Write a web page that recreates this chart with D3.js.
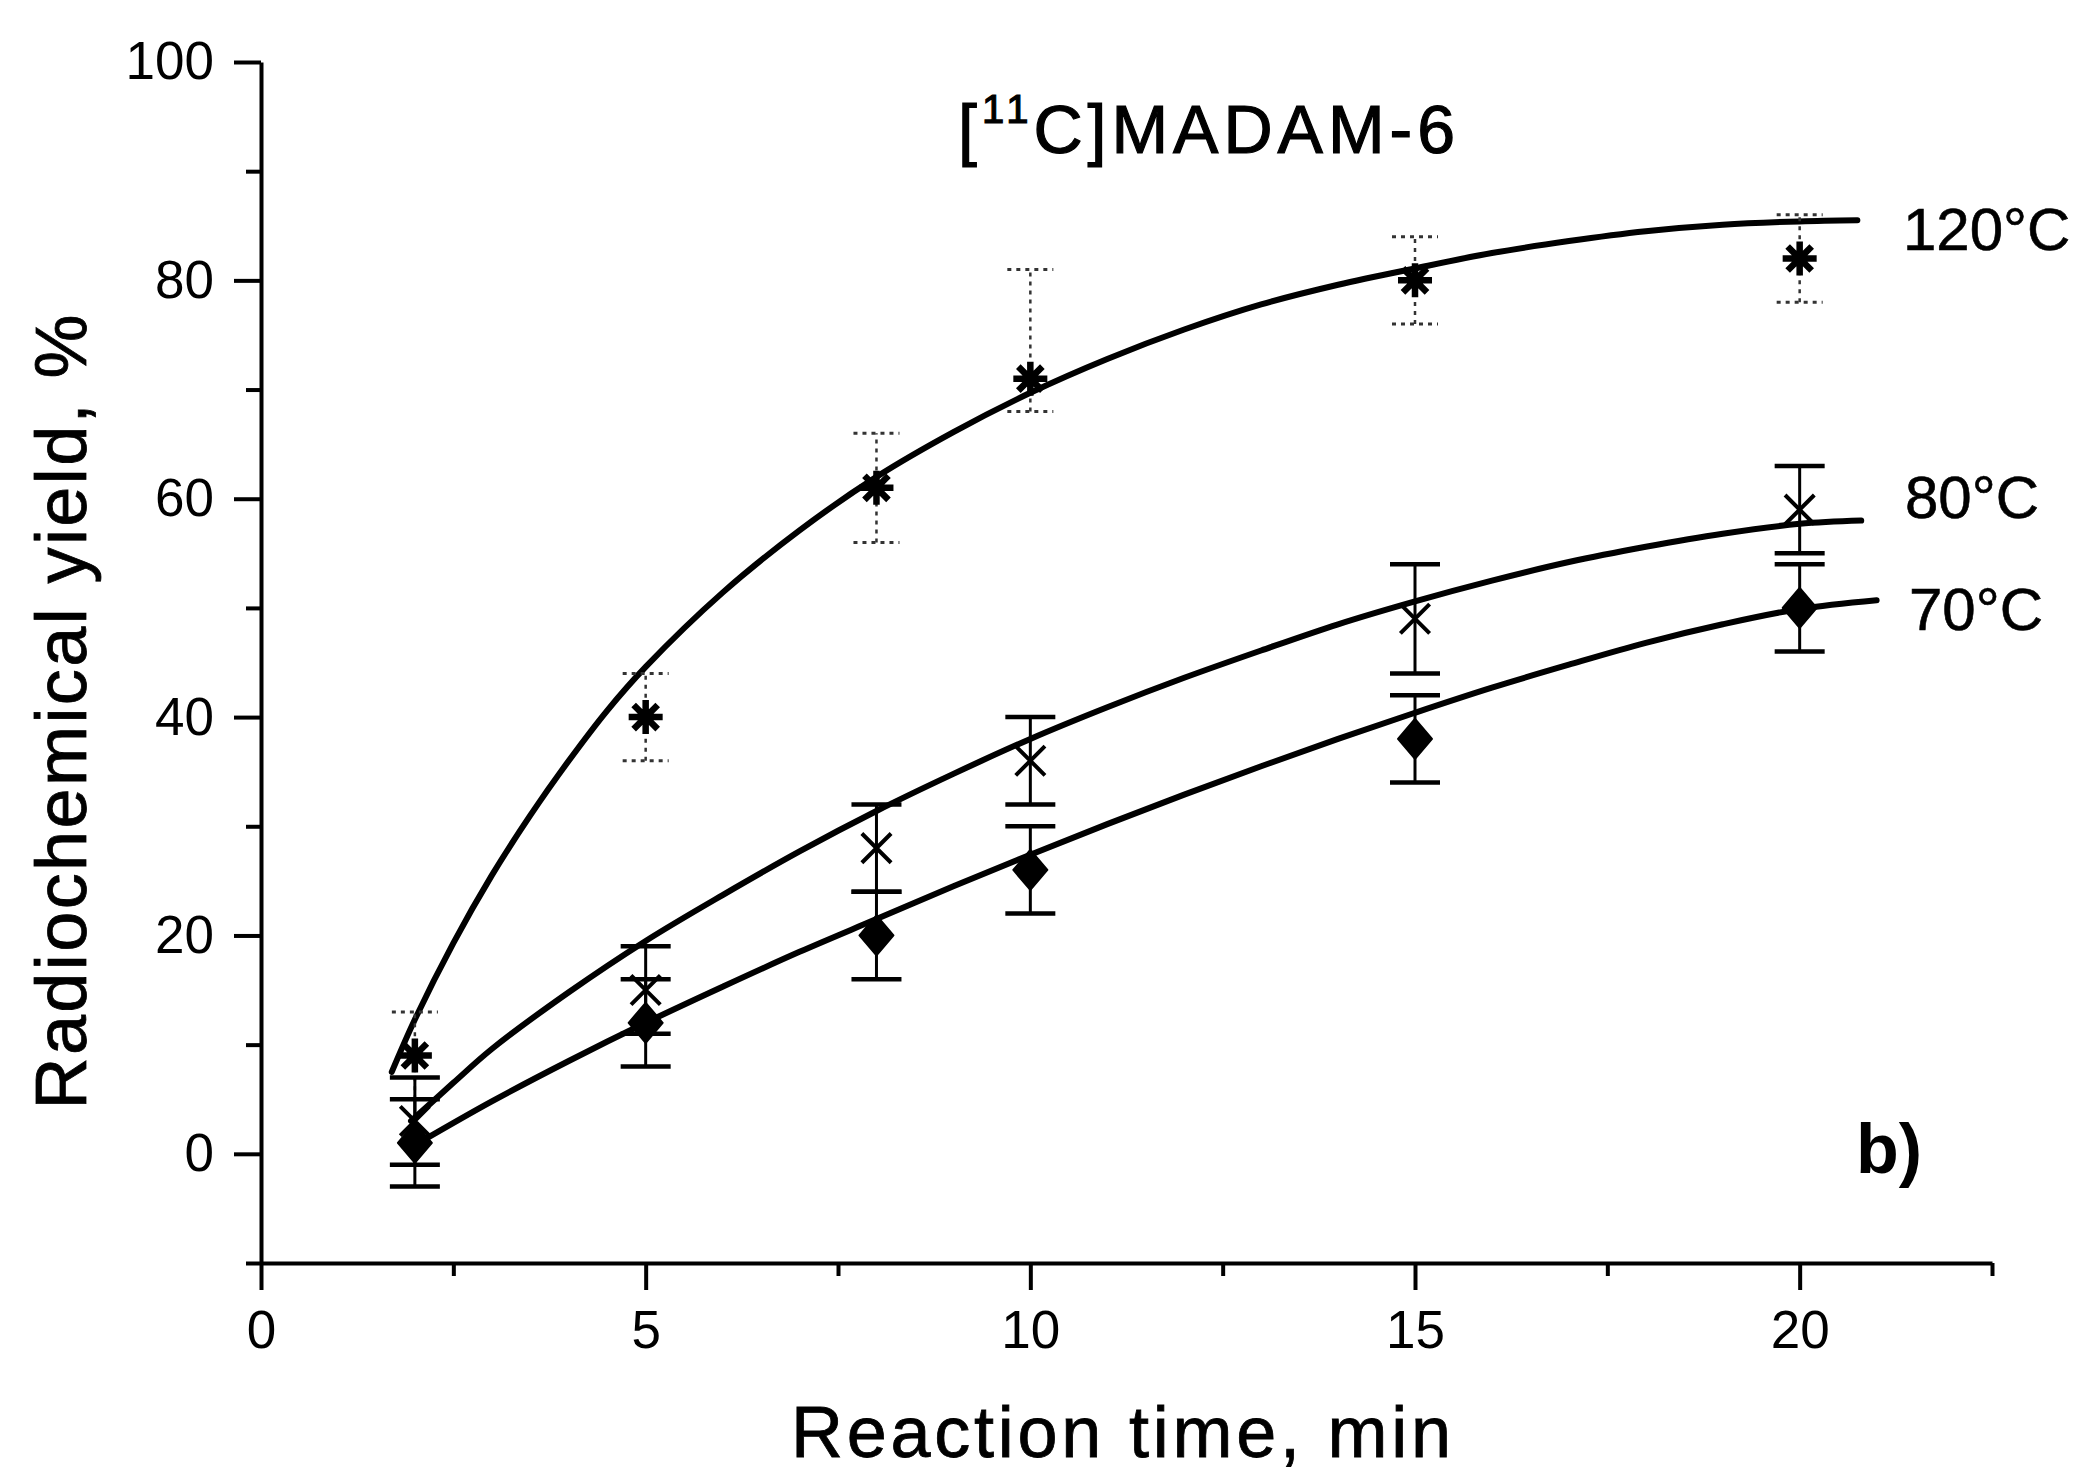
<!DOCTYPE html>
<html>
<head>
<meta charset="utf-8">
<script src="https://cdn.jsdelivr.net/npm/d3@7"></script>
<style>
  html, body { margin: 0; padding: 0; background: #fff; }
  svg { display: block; }
  text { font-family: "Liberation Sans", Arial, Helvetica, sans-serif; fill: #000; }
</style>
</head>
<body>
<svg id="chart" width="2078" height="1478"></svg>
<script>
// ---------------- data ----------------
const times = [2, 5, 8, 10, 15, 20];

const y120 = [9, 40, 61, 71, 80, 82];
const hi120 = [13, 44, 66, 81, 84, 86];
const lo120 = [5, 36, 56, 68, 76, 78];

const y80 = [3, 15, 28, 36, 49, 59];
const hi80 = [7, 19, 32, 40, 54, 63];
const lo80 = [-1, 11, 24, 32, 44, 55];

const y70 = [1, 12, 20, 26, 38, 50];
const hi70 = [5, 16, 24, 30, 42, 54];
const lo70 = [-3, 8, 16, 22, 34, 46];

// fitted curves
const fit120T = [1.7, 2, 2.5, 3, 3.5, 4, 4.5, 5, 6, 7, 8, 9, 10, 11, 12, 13, 14, 15, 16, 17, 18, 19, 20, 20.75];
const fit120V = [7.5, 12.3, 19.3, 25.5, 31, 36, 40.6, 44.6, 51.4, 57.1, 62, 66.1, 69.7, 72.8, 75.5, 77.8, 79.6, 81.1, 82.5, 83.6, 84.5, 85.1, 85.4, 85.5];

const fit80T = [1.95, 2.5, 3, 4, 5, 6, 7, 8, 9, 10, 11, 12, 13, 14, 15, 16, 17, 18, 19, 20, 20.8];
const fit80V = [3, 6.5, 9.6, 14.8, 19.5, 23.7, 27.7, 31.4, 34.8, 38, 40.9, 43.6, 46.1, 48.5, 50.6, 52.5, 54.2, 55.6, 56.8, 57.7, 58];

const fit70T = [2.1, 3, 4, 5, 6, 7, 8, 9, 10, 11, 12, 13, 14, 15, 16, 17, 18, 19, 20, 21];
const fit70V = [1.2, 4.8, 8.5, 12, 15.3, 18.5, 21.5, 24.5, 27.4, 30.2, 32.9, 35.5, 38, 40.4, 42.7, 44.8, 46.8, 48.5, 49.9, 50.7];

const xMajorTicks = [0, 5, 10, 15, 20];
const xMinorTicks = [2.5, 7.5, 12.5, 17.5, 22.5];
const yMajorTicks = [0, 20, 40, 60, 80, 100];
const yMinorTicks = [-10, 10, 30, 50, 70, 90];

const seriesLabels = ["120°C", "80°C", "70°C"];
const titleMain = "C]MADAM-6";
const titleSup = "11";
const xTitle = "Reaction  time,  min";
const yTitle = "Radiochemical  yield,  %";
const panelLabel = "b)";

// ---------------- layout ----------------
const svg = d3.select("#chart");
const x = d3.scaleLinear().domain([0, 22.5]).range([261, 1992]);
const y = d3.scaleLinear().domain([-10, 100]).range([1263, 62]);

const AX = 4;

// axes
const gx = svg.append("g").attr("transform", `translate(0,${y(-10)})`);
gx.call(d3.axisBottom(x).tickValues(xMajorTicks).tickSize(27).tickSizeOuter(0).tickPadding(20).tickFormat(d3.format("d")));
const gxm = svg.append("g").attr("transform", `translate(0,${y(-10)})`);
gxm.call(d3.axisBottom(x).tickValues(xMinorTicks).tickSize(13).tickSizeOuter(0).tickFormat(""));
gxm.select(".domain").remove();

const gy = svg.append("g").attr("transform", `translate(${x(0)},0)`);
gy.call(d3.axisLeft(y).tickValues(yMajorTicks).tickSize(27).tickSizeOuter(0).tickPadding(20).tickFormat(d3.format("d")));
const gym = svg.append("g").attr("transform", `translate(${x(0)},0)`);
gym.call(d3.axisLeft(y).tickValues(yMinorTicks).tickSize(15).tickSizeOuter(0).tickFormat(""));
gym.select(".domain").remove();

svg.selectAll(".domain, .tick line").attr("stroke", "#000").attr("stroke-width", AX);
svg.selectAll(".tick text").attr("font-size", 53).attr("fill", "#000")
   .style("font-family", '"Liberation Sans", Arial, sans-serif');

// fitted curves
const line = d3.line().x(d => x(d[0])).y(d => y(d[1])).curve(d3.curveCatmullRom.alpha(0.5));
const fits = [
  d3.zip(fit120T, fit120V),
  d3.zip(fit80T, fit80V),
  d3.zip(fit70T, fit70V)
];
svg.append("g").selectAll("path").data(fits).join("path")
  .attr("d", line).attr("fill", "none").attr("stroke", "#000")
  .attr("stroke-width", 6).attr("stroke-linecap", "round").attr("stroke-linejoin", "round");

// error bars
function errorBars(lo, hi, opts) {
  const g = svg.append("g");
  const data = times.map((t, i) => ({ t, lo: lo[i], hi: hi[i] }));
  g.selectAll("line.v").data(data).join("line")
    .attr("x1", d => x(d.t)).attr("x2", d => x(d.t))
    .attr("y1", d => y(d.lo)).attr("y2", d => y(d.hi))
    .attr("stroke", opts.color).attr("stroke-width", opts.w)
    .attr("stroke-dasharray", opts.dash);
  ["lo", "hi"].forEach(k => {
    g.selectAll("line.c" + k).data(data).join("line")
      .attr("x1", d => x(d.t) - opts.cap).attr("x2", d => x(d.t) + opts.cap)
      .attr("y1", d => y(d[k])).attr("y2", d => y(d[k]))
      .attr("stroke", opts.color).attr("stroke-width", opts.cw)
      .attr("stroke-dasharray", opts.dash);
  });
}
errorBars(lo120, hi120, { color: "#333", w: 2.5, cw: 3, cap: 23, dash: "4,5" });
errorBars(lo80, hi80, { color: "#000", w: 3, cw: 4.5, cap: 25, dash: null });
errorBars(lo70, hi70, { color: "#000", w: 3, cw: 4.5, cap: 25, dash: null });

// markers
const starR = 17;
const starPath = (() => {
  const p = d3.path();
  for (let k = 0; k < 4; k++) {
    const a = k * Math.PI / 4;
    p.moveTo(-starR * Math.cos(a), -starR * Math.sin(a));
    p.lineTo(starR * Math.cos(a), starR * Math.sin(a));
  }
  return p.toString();
})();
svg.append("g").selectAll("path").data(times.map((t, i) => [t, y120[i]])).join("path")
  .attr("transform", d => `translate(${x(d[0])},${y(d[1])})`)
  .attr("d", starPath).attr("stroke", "#000").attr("stroke-width", 6.5).attr("fill", "none");

svg.append("g").selectAll("path").data(times.map((t, i) => [t, y80[i]])).join("path")
  .attr("transform", d => `translate(${x(d[0])},${y(d[1])})`)
  .attr("d", d3.symbol(d3.symbolTimes, 560)).attr("stroke", "#000").attr("stroke-width", 4).attr("fill", "none");

const dW = 17, dH = 20;
const diamondPath = (() => {
  const p = d3.path();
  p.moveTo(0, -dH); p.lineTo(dW, 0); p.lineTo(0, dH); p.lineTo(-dW, 0); p.closePath();
  return p.toString();
})();
svg.append("g").selectAll("path").data(times.map((t, i) => [t, y70[i]])).join("path")
  .attr("transform", d => `translate(${x(d[0])},${y(d[1])})`)
  .attr("d", diamondPath).attr("fill", "#000").attr("stroke", "#000").attr("stroke-width", 2).attr("stroke-linejoin", "round");

// series labels
const labelPos = [[1903, 250], [1905, 518], [1909, 630]];
svg.append("g").selectAll("text").data(seriesLabels).join("text")
  .attr("x", (d, i) => labelPos[i][0]).attr("y", (d, i) => labelPos[i][1])
  .attr("font-size", 60).attr("stroke", "#000").attr("stroke-width", 0.6).text(d => d);

// title
const tt = svg.append("text").attr("x", 958).attr("y", 153).attr("font-size", 68)
  .attr("letter-spacing", 5).attr("stroke", "#000").attr("stroke-width", 1.2);
tt.append("tspan").text("[");
tt.append("tspan").attr("font-size", 40).attr("dy", -30).text(titleSup);
tt.append("tspan").attr("dy", 30).text(titleMain);

// axis titles
svg.append("text").attr("x", 1121).attr("y", 1457).attr("text-anchor", "middle")
  .attr("font-size", 72).attr("textLength", 660).attr("lengthAdjust", "spacing")
  .attr("stroke", "#000").attr("stroke-width", 0.8).text(xTitle);
svg.append("text").attr("transform", "translate(86,712) rotate(-90)").attr("text-anchor", "middle")
  .attr("font-size", 72).attr("textLength", 795).attr("lengthAdjust", "spacing")
  .attr("stroke", "#000").attr("stroke-width", 0.8).text(yTitle);

// panel label
svg.append("text").attr("x", 1856).attr("y", 1173).attr("font-size", 70).attr("font-weight", "bold").text(panelLabel);
</script>
</body>
</html>
